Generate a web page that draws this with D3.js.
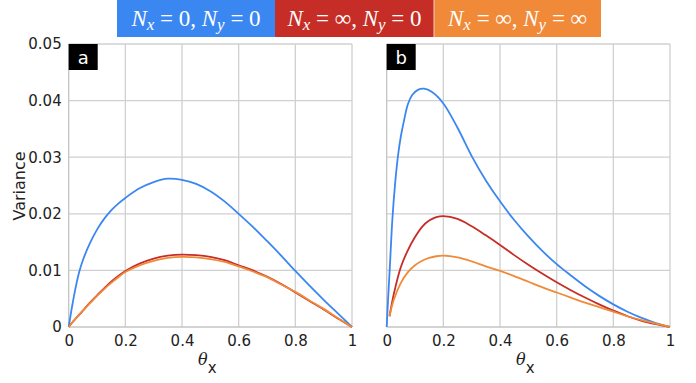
<!DOCTYPE html>
<html>
<head>
<meta charset="utf-8">
<script src="https://cdn.jsdelivr.net/npm/d3@7"></script>
<style>
  body { margin: 0; background: #fff; }
  svg { display: block; }
</style>
</head>
<body>
<svg width="696" height="383"></svg>
<script>
// values
let xTicks = [0, 0.2, 0.4, 0.6, 0.8, 1];
let yTicks = [0, 0.01, 0.02, 0.03, 0.04, 0.05];
let xTickLabels = ["0", "0.2", "0.4", "0.6", "0.8", "1"];
let yTickLabels = ["0", "0.01", "0.02", "0.03", "0.04", "0.05"];
let colors = ["#3b87f2", "#c62d26", "#f08a38"];

let xA = [0, 0.0125, 0.025, 0.0375, 0.05, 0.075, 0.1, 0.125, 0.15, 0.175, 0.2, 0.25, 0.3, 0.35, 0.4, 0.45, 0.5, 0.55, 0.6, 0.65, 0.7, 0.75, 0.8, 0.85, 0.9, 0.95, 1];
let blueA = [0, 0.0038, 0.0071, 0.0098, 0.0118, 0.0148, 0.0172, 0.0191, 0.0206, 0.0218, 0.0228, 0.0245, 0.0256, 0.0262, 0.0260, 0.0253, 0.0240, 0.0222, 0.0200, 0.0177, 0.0152, 0.0126, 0.0099, 0.0073, 0.0048, 0.0024, 0];
let redA = [0, 0.0008, 0.0015, 0.0022, 0.0029, 0.0043, 0.0056, 0.0068, 0.0080, 0.0090, 0.0099, 0.0112, 0.0121, 0.0126, 0.0128, 0.0127, 0.0124, 0.0118, 0.0109, 0.0100, 0.0089, 0.0076, 0.0061, 0.0046, 0.0031, 0.0015, 0];
let orangeA = [0, 0.0008, 0.0015, 0.0022, 0.0029, 0.0042, 0.0055, 0.0067, 0.0078, 0.0088, 0.0097, 0.0109, 0.0117, 0.0122, 0.0124, 0.0123, 0.0120, 0.0115, 0.0107, 0.0098, 0.0088, 0.0075, 0.0062, 0.0047, 0.0032, 0.0016, 0];

let xB = [0, 0.005, 0.011, 0.02, 0.03, 0.04, 0.05, 0.06, 0.075, 0.09, 0.11, 0.132, 0.16, 0.2, 0.25, 0.3, 0.35, 0.4, 0.45, 0.5, 0.55, 0.6, 0.65, 0.7, 0.75, 0.8, 0.85, 0.9, 0.95, 1];
let blueB = [0, 0.0050, 0.0105, 0.0190, 0.0255, 0.0303, 0.0337, 0.0362, 0.0394, 0.0410, 0.0419, 0.0421, 0.0415, 0.0395, 0.0352, 0.0302, 0.0259, 0.0222, 0.0189, 0.0160, 0.0134, 0.0111, 0.0091, 0.0072, 0.0055, 0.0040, 0.0027, 0.0016, 0.0007, 0];

let xB2 = [0.01, 0.025, 0.05, 0.075, 0.1, 0.125, 0.15, 0.175, 0.2, 0.25, 0.3, 0.35, 0.4, 0.45, 0.5, 0.55, 0.6, 0.65, 0.7, 0.75, 0.8, 0.85, 0.9, 0.95, 1];
let redB = [0.0019, 0.0058, 0.0106, 0.0136, 0.0159, 0.0177, 0.0188, 0.0194, 0.0196, 0.0191, 0.0178, 0.0162, 0.0145, 0.0127, 0.0110, 0.0094, 0.0079, 0.0065, 0.0052, 0.0040, 0.0029, 0.0019, 0.0011, 0.0005, 0];
let orangeB = [0.0019, 0.0048, 0.0078, 0.0097, 0.0109, 0.0117, 0.0122, 0.0125, 0.0126, 0.0123, 0.0116, 0.0107, 0.0099, 0.0090, 0.0080, 0.0070, 0.0061, 0.0052, 0.0043, 0.0035, 0.0027, 0.0019, 0.0012, 0.0006, 0];

let svg = d3.select("svg");

let y = d3.scaleLinear().domain([0, 0.05]).range([327, 44]);

function zip(xs, ys) {
    return xs.map(function (d, i) { return [d, ys[i]]; });
}

function drawPanel(left, right, letter, showY, lines) {
    let x = d3.scaleLinear().domain([0, 1]).range([left, right]);
    let g = svg.append("g");

    // grid
    g.selectAll(".vg").data(xTicks.slice(1)).enter().append("line")
        .attr("x1", d => x(d)).attr("x2", d => x(d))
        .attr("y1", y(0)).attr("y2", y(0.05))
        .attr("stroke", "#d0d0d0").attr("stroke-width", 1.3);
    g.selectAll(".hg").data(yTicks.slice(1)).enter().append("line")
        .attr("x1", x(0)).attr("x2", x(1))
        .attr("y1", d => y(d)).attr("y2", d => y(d))
        .attr("stroke", "#d0d0d0").attr("stroke-width", 1.3);

    // axes lines
    g.append("line").attr("x1", x(0)).attr("x2", x(0)).attr("y1", y(0)).attr("y2", y(0.05))
        .attr("stroke", "#c4c4c4").attr("stroke-width", 1.3);
    g.append("line").attr("x1", x(0)).attr("x2", x(1)).attr("y1", y(0)).attr("y2", y(0))
        .attr("stroke", "#c4c4c4").attr("stroke-width", 1.3);

    let xAxis = d3.axisBottom(x).tickValues(xTicks)
        .tickFormat((d, i) => xTickLabels[i]).tickSize(0).tickPadding(8);
    let xg = g.append("g").attr("transform", "translate(0," + y(0) + ")").call(xAxis);
    xg.select(".domain").remove();
    xg.selectAll("text").attr("font-family", "DejaVu Sans").attr("font-size", 15).attr("fill", "#222");

    if (showY) {
        let yAxis = d3.axisLeft(y).tickValues(yTicks)
            .tickFormat((d, i) => yTickLabels[i]).tickSize(0).tickPadding(7);
        let yg = g.append("g").attr("transform", "translate(" + x(0) + ",0)").call(yAxis);
        yg.select(".domain").remove();
        yg.selectAll("text").attr("font-family", "DejaVu Sans").attr("font-size", 15).attr("fill", "#222");
    }

    // curves
    let line = d3.line().x(d => x(d[0])).y(d => y(d[1])).curve(d3.curveCatmullRom.alpha(0.5));
    lines.forEach(function (pts, i) {
        g.append("path").datum(pts)
            .attr("d", line)
            .attr("fill", "none")
            .attr("stroke", colors[i])
            .attr("stroke-width", 1.8);
    });

    // panel letter
    g.append("rect").attr("x", x(0)).attr("y", y(0.05))
        .attr("width", 29).attr("height", 26).attr("fill", "#000");
    g.append("text").attr("x", x(0) + 14.5).attr("y", y(0.05) + 19.5)
        .attr("text-anchor", "middle")
        .attr("font-family", "DejaVu Sans").attr("font-size", 18).attr("fill", "#fff")
        .text(letter);

    // x label
    let lab = g.append("text").attr("x", x(0.5) - 3).attr("y", 365)
        .attr("text-anchor", "middle").attr("fill", "#222");
    lab.append("tspan").attr("font-family", "DejaVu Serif").attr("font-style", "italic")
        .attr("font-size", 16).text("θ");
    lab.append("tspan").attr("font-family", "DejaVu Sans").attr("font-size", 15)
        .attr("dy", 8).text("x");
}

drawPanel(68.7, 352, "a", true, [zip(xA, blueA), zip(xA, redA), zip(xA, orangeA)]);
drawPanel(386.7, 670, "b", false, [zip(xB, blueB), zip(xB2, redB), zip(xB2, orangeB)]);

// y label
svg.append("text")
    .attr("transform", "translate(25,186) rotate(-90)")
    .attr("text-anchor", "middle")
    .attr("font-family", "DejaVu Sans").attr("font-size", 16).attr("fill", "#222")
    .text("Variance");

// legend
let legendItems = [
    ["0", "0"],
    ["∞", "0"],
    ["∞", "∞"]
];
let legendX = [117, 275, 434, 601];
legendItems.forEach(function (d, i) {
    svg.append("rect").attr("x", legendX[i]).attr("y", 0)
        .attr("width", legendX[i + 1] - legendX[i]).attr("height", 37)
        .attr("fill", colors[i]);
    let t = svg.append("text")
        .attr("x", (legendX[i] + legendX[i + 1]) / 2).attr("y", 26)
        .attr("text-anchor", "middle")
        .attr("font-family", "Liberation Serif").attr("font-size", 23).attr("fill", "#fff");
    t.append("tspan").attr("font-style", "italic").text("N");
    t.append("tspan").attr("font-style", "italic").attr("font-size", 17).attr("dy", 4).text("x");
    t.append("tspan").attr("dy", -4).text(" = " + d[0] + ", ");
    t.append("tspan").attr("font-style", "italic").text("N");
    t.append("tspan").attr("font-style", "italic").attr("font-size", 17).attr("dy", 4).text("y");
    t.append("tspan").attr("dy", -4).text(" = " + d[1]);
});
svg.append("line").attr("x1", 434).attr("x2", 434).attr("y1", 0).attr("y2", 37)
    .attr("stroke", "#f4d0c0").attr("stroke-width", 1);
</script>
</body>
</html>
